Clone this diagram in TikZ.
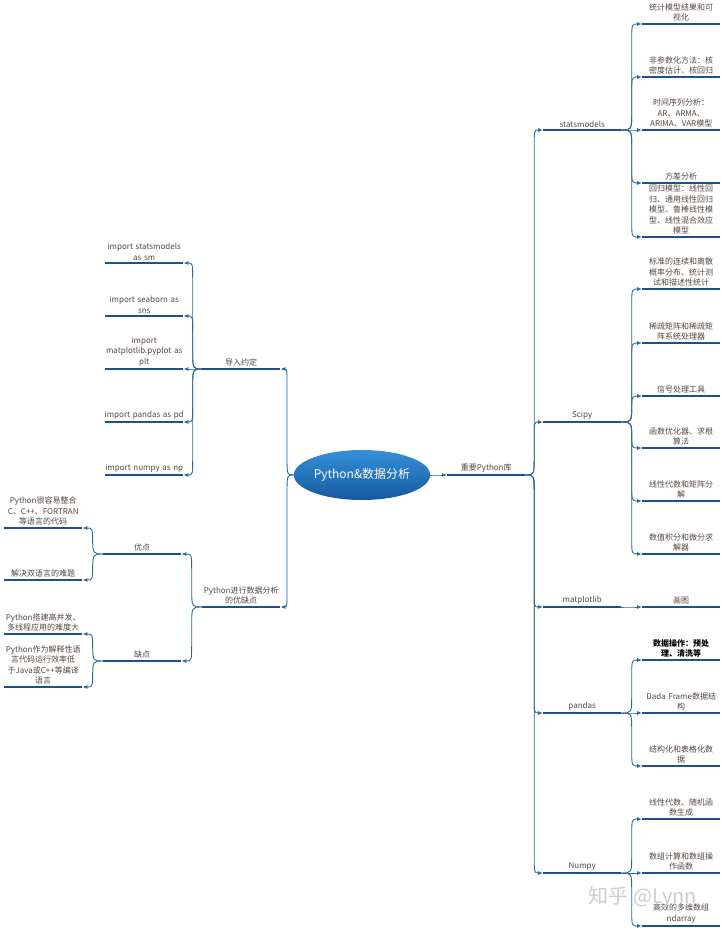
\documentclass[tikz,border=0pt]{standalone}
\usepackage{fontspec}
\setmainfont{Noto Sans CJK SC}
\usetikzlibrary{arrows.meta,calc,shapes.geometric}
\definecolor{LineBlue}{HTML}{1D5288}
\definecolor{LinkBlue}{HTML}{2D6798}
\definecolor{TextGray}{HTML}{524640}
\definecolor{RootTop}{HTML}{3590D8}
\definecolor{RootBottom}{HTML}{15599F}

\tikzset{
  uline/.style={draw=LineBlue,line width=2.4pt},
  topic/.style={anchor=south west,text width=84pt,inner xsep=-3pt,inner ysep=2.5pt,
    align=center,font=\fontsize{8}{10.5}\selectfont,text=TextGray,
    append after command={(\tikzlastnode.south west) edge[uline] (\tikzlastnode.south east)}},
  fork/.style={to path={let \p1=(\tikztostart),\p2=(\tikztotarget),
    \p3=($(\tikztostart)!0.5!(\tikztotarget)$),\n2={sign(\y2-(\y1))} in
    .. controls (\x3,\y1) and (\x3,\y1) .. (\x3,{\y1+\n2*18pt})
    -- (\x3,{\y2-\n2*18pt}) .. controls (\x3,\y2) and (\x3,\y2) .. (\p2)}},
  link/.style={draw=LinkBlue,line width=0.9pt,-{Latex[length=5pt,width=4pt]},fork},
  root/.style={ellipse,minimum width=120pt,minimum height=50pt,inner sep=0pt,
    top color=RootTop,bottom color=RootBottom,text=white,font=\fontsize{12}{14}\selectfont},
  wmark/.style={text=gray!40,font=\fontsize{20}{22}\selectfont}
}

\begin{document}
\begin{tikzpicture}[x=1pt,y=-1pt]
  \useasboundingbox (0,0) rectangle (720,928);

  \node[root] (root) at (362,475) {Python\&数据分析};

  % right: libraries
  \node[topic] (lib) at (447,475) {重要Python库};
  \node[topic] (stats) at (543,130) {statsmodels};
  \node[topic] (scipy) at (543,422) {Scipy};
  \node[topic] (mpl) at (543,607) {matplotlib};
  \node[topic] (pd) at (543,713) {pandas};
  \node[topic] (np) at (543,873) {Numpy};

  \node[topic] (s1) at (642,24) {统计模型结果和可\\视化};
  \node[topic] (s2) at (642,77) {非参数化方法：核\\密度估计、核回归};
  \node[topic] (s3) at (642,130) {时间序列分析：\\AR、ARMA、\\ARIMA、VAR模型};
  \node[topic] (s4) at (642,183) {方差分析};
  \node[topic] (s5) at (642,237) {回归模型：线性回\\归、通用线性回归\\模型、鲁棒线性模\\型、线性混合效应\\模型};

  \node[topic] (c1) at (642,289) {标准的连续和离散\\概率分布、统计测\\试和描述性统计};
  \node[topic] (c2) at (642,343) {稀疏矩阵和稀疏矩\\阵系统处理器};
  \node[topic] (c3) at (642,396) {信号处理工具};
  \node[topic] (c4) at (642,448) {函数优化器、求根\\算法};
  \node[topic] (c5) at (642,501) {线性代数和矩阵分\\解};
  \node[topic] (c6) at (642,554) {数值积分和微分求\\解器};

  \node[topic] (m1) at (642,607) {画图};

  \node[topic,text=black,font=\fontsize{8}{10.5}\selectfont\bfseries] (p1) at (642,660) {数据操作：预处\\理、清洗等};
  \node[topic] (p2) at (642,713) {Dada Frame数据结\\构};
  \node[topic] (p3) at (642,766) {结构化和表格化数\\据};

  \node[topic] (n1) at (642,819) {线性代数、随机函\\数生成};
  \node[topic] (n2) at (642,873) {数组计算和数组操\\作函数};
  \node[topic] (n3) at (642,926) {高效的多维数组\\ndarray};

  % left: conventions and pros/cons
  \node[topic] (conv) at (202,369) {导入约定};
  \node[topic] (i1) at (105,263) {import statsmodels\\as sm};
  \node[topic] (i2) at (105,316) {import seaborn as\\sns};
  \node[topic] (i3) at (105,369) {import\\matplotlib.pyplot as\\plt};
  \node[topic] (i4) at (105,422) {import pandas as pd};
  \node[topic] (i5) at (105,475) {import numpy as np};

  \node[topic] (procon) at (202,607) {Python进行数据分析\\的优缺点};
  \node[topic] (good) at (103,554) {优点};
  \node[topic] (bad) at (103,661) {缺点};
  \node[topic] (a1) at (4,528) {Python很容易整合\\C、C++、FORTRAN\\等语言的代码};
  \node[topic] (a2) at (4,580) {解决双语言的难题};
  \node[topic] (b1) at (4,634) {Python搭建高并发、\\多线程应用的难度大};
  \node[topic] (b2) at (4,687) {Python作为解释性语\\言代码运行效率低\\于Java或C++等编译\\语言};

  \draw[link] (root.east) to (lib.south west);
  \foreach \k in {stats,scipy,mpl,pd,np}
    \draw[link] (lib.south east) to (\k.south west);
  \foreach \k in {s1,s2,s3,s4,s5}
    \draw[link] (stats.south east) to (\k.south west);
  \foreach \k in {c1,c2,c3,c4,c5,c6}
    \draw[link] (scipy.south east) to (\k.south west);
  \draw[link] (mpl.south east) to (m1.south west);
  \foreach \k in {p1,p2,p3}
    \draw[link] (pd.south east) to (\k.south west);
  \foreach \k in {n1,n2,n3}
    \draw[link] (np.south east) to (\k.south west);

  \draw[link] (root.west) to (conv.south east);
  \draw[link] (root.west) to (procon.south east);
  \foreach \k in {i1,i2,i3,i4,i5}
    \draw[link] (conv.south west) to (\k.south east);
  \draw[link] (procon.south west) to (good.south east);
  \draw[link] (procon.south west) to (bad.south east);
  \foreach \k in {a1,a2}
    \draw[link] (good.south west) to (\k.south east);
  \foreach \k in {b1,b2}
    \draw[link] (bad.south west) to (\k.south east);

  \node[wmark] (wm) at (643,897) {知乎 @Lynn};
\end{tikzpicture}
\end{document}
